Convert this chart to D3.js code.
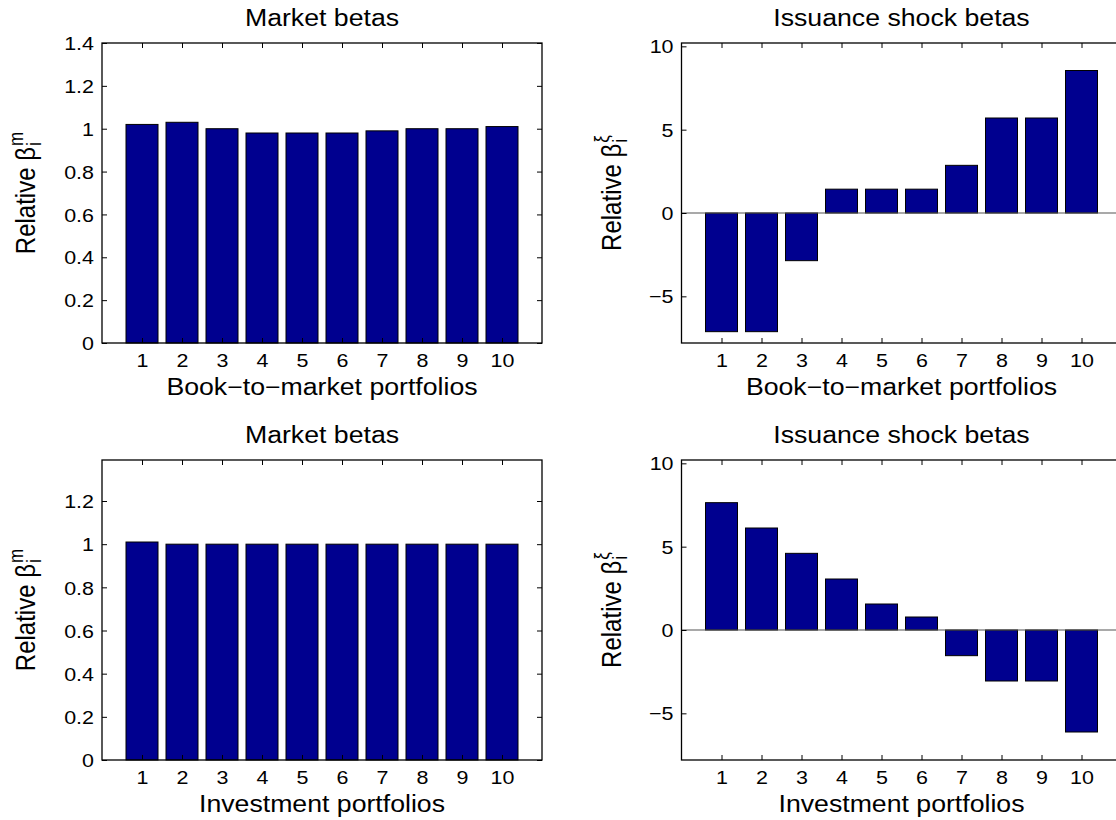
<!DOCTYPE html>
<html>
<head>
<meta charset="utf-8">
<script src="https://cdn.jsdelivr.net/npm/d3@7"></script>
<style>
body { margin: 0; background: #fff; }
text { font-family: "Liberation Sans", Arial, Helvetica, sans-serif; fill: #000; }
</style>
</head>
<body>
<div id="canvas"></div>
<script>
var WIDTH = 1116
var HEIGHT = 820

// the figure text is a little wider than it is tall
var SX = 1.16
var PLOT_W = 440
var PLOT_H = 300
var TICK = 5
var BAR_FILL = 'rgb(0,0,143)'

var categories = [1, 2, 3, 4, 5, 6, 7, 8, 9, 10]
var bmMarket = [1.02, 1.03, 1.00, 0.98, 0.98, 0.98, 0.99, 1.00, 1.00, 1.01]
var bmIssuance = [-7.12, -7.12, -2.86, 1.43, 1.43, 1.43, 2.86, 5.70, 5.70, 8.55]
var invMarket = [1.01, 1.00, 1.00, 1.00, 1.00, 1.00, 1.00, 1.00, 1.00, 1.00]
var invIssuance = [7.64, 6.12, 4.60, 3.06, 1.56, 0.78, -1.54, -3.06, -3.06, -6.12]

var marketTicks = [0, 0.2, 0.4, 0.6, 0.8, 1, 1.2, 1.4]
var invMarketTicks = [0, 0.2, 0.4, 0.6, 0.8, 1, 1.2]
var issuanceTicks = [-5, 0, 5, 10]

var panels = [
  {left: 102, top: 43, values: bmMarket, ydomain: [0, 1.4], ticks: marketTicks,
   title: 'Market betas', xlabel: 'Book\u2212to\u2212market portfolios', sup: 'm', labelX: 35},
  {left: 681.5, top: 43, values: bmIssuance, ydomain: [-7.8, 10.2], ticks: issuanceTicks,
   title: 'Issuance shock betas', xlabel: 'Book\u2212to\u2212market portfolios', sup: '\u03be', labelX: 621},
  {left: 102, top: 460, values: invMarket, ydomain: [0, 1.39], ticks: invMarketTicks,
   title: 'Market betas', xlabel: 'Investment portfolios', sup: 'm', labelX: 35},
  {left: 681.5, top: 460, values: invIssuance, ydomain: [-7.8, 10.2], ticks: issuanceTicks,
   title: 'Issuance shock betas', xlabel: 'Investment portfolios', sup: '\u03be', labelX: 621}
]

var svg = d3.select('#canvas').append('svg')
  .attr('width', WIDTH)
  .attr('height', HEIGHT)

var fmt = d3.format('~g')

var stretch = function (sel, x, y) {
  sel.attr('x', null).attr('y', null)
    .attr('transform', 'translate(' + x + ',' + y + ') scale(' + SX + ',1)')
}

var drawPanel = function (p) {
  var x = d3.scaleLinear().domain([0, 11]).range([0, PLOT_W])
  var y = d3.scaleLinear().domain(p.ydomain).range([PLOT_H, 0])

  var g = svg.append('g')
    .attr('transform', 'translate(' + p.left + ',' + p.top + ')')

  // bars
  g.selectAll('rect.bar')
    .data(p.values)
    .enter().append('rect')
    .attr('class', 'bar')
    .attr('x', function (d, i) { return x(categories[i] - 0.4) })
    .attr('width', x(0.8) - x(0))
    .attr('y', function (d) { return y(Math.max(d, 0)) })
    .attr('height', function (d) { return Math.abs(y(d) - y(0)) })
    .attr('fill', BAR_FILL)
    .attr('stroke', '#000')
    .attr('stroke-width', 1)

  // zero baseline when the axis goes negative
  if (p.ydomain[0] < 0) {
    g.append('line')
      .attr('x1', 0).attr('x2', PLOT_W)
      .attr('y1', y(0)).attr('y2', y(0))
      .attr('stroke', '#555')
      .attr('stroke-width', 1.2)
  }

  // axes, ticks pointing inwards
  var left = g.append('g').call(d3.axisLeft(y).tickValues(p.ticks).tickFormat(fmt)
    .tickSize(-TICK).tickPadding(8))
  var bottom = g.append('g').attr('transform', 'translate(0,' + PLOT_H + ')')
    .call(d3.axisBottom(x).tickValues(categories).tickFormat(fmt)
      .tickSize(-TICK).tickPadding(11))
  g.append('g').attr('transform', 'translate(' + PLOT_W + ',0)')
    .call(d3.axisRight(y).tickValues(p.ticks).tickFormat('').tickSize(-TICK))
  g.append('g')
    .call(d3.axisTop(x).tickValues(categories).tickFormat('').tickSize(-TICK))

  g.selectAll('.domain').remove()
  g.selectAll('.tick line').attr('stroke-width', 1)

  left.selectAll('text').attr('font-size', 18.5).attr('font-family', null)
    .each(function () { stretch(d3.select(this), -8, 0) })
    .attr('dy', '0.36em')
  bottom.selectAll('text').attr('font-size', 18.5).attr('font-family', null)
    .each(function () { stretch(d3.select(this), 0, 11) })

  g.append('rect')
    .attr('width', PLOT_W)
    .attr('height', PLOT_H)
    .attr('fill', 'none')
    .attr('stroke', '#000')
    .attr('stroke-width', 1.3)

  // title and x label
  g.append('text')
    .attr('text-anchor', 'middle')
    .attr('font-size', 23)
    .attr('dy', '0.36em')
    .text(p.title)
    .call(stretch, PLOT_W / 2, -25)

  g.append('text')
    .attr('text-anchor', 'middle')
    .attr('font-size', 23)
    .attr('dy', '0.36em')
    .text(p.xlabel)
    .call(stretch, PLOT_W / 2, PLOT_H + 44)

  // y label: Relative beta with stacked super and subscript
  var yl = svg.append('g')
    .attr('transform', 'translate(' + p.labelX + ',' + (p.top + PLOT_H / 2) + ') scale(' + SX + ',1) rotate(-90)')
  var main = yl.append('text').attr('font-size', 24).text('Relative \u03b2')
  var len = main.node().getComputedTextLength()
  var sup = yl.append('text').attr('font-size', 17).attr('x', len + 1).attr('y', -10).text(p.sup)
  var sub = yl.append('text').attr('font-size', 17).attr('x', len + 1).attr('y', 5).text('i')
  var total = len + 1 + Math.max(sup.node().getComputedTextLength(), sub.node().getComputedTextLength())
  yl.selectAll('text').attr('dx', -total / 2)
}

panels.forEach(drawPanel)
</script>
</body>
</html>
